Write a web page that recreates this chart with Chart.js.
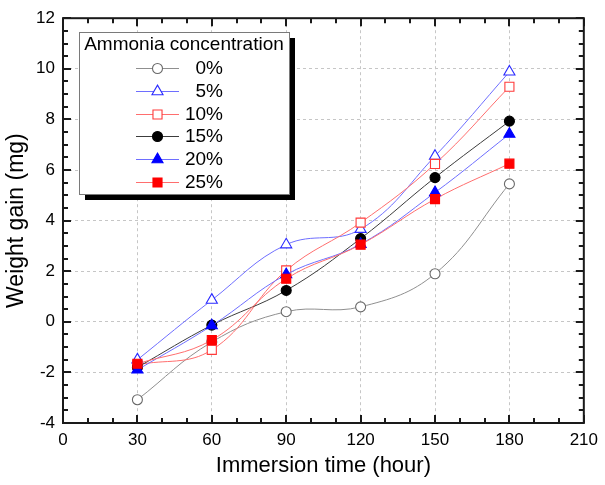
<!DOCTYPE html>
<html>
<head>
<meta charset="utf-8">
<title>Weight gain vs immersion time</title>
<script src="https://cdn.jsdelivr.net/npm/chart.js@4.4.0/dist/chart.umd.min.js"></script>
<style>
  html, body { margin: 0; padding: 0; background: #fff; }
  #wrap { width: 605px; height: 485px; }
</style>
</head>
<body>
<div id="wrap"><canvas id="gainChart" width="605" height="485"></canvas></div>
<script>
// immersion times (hour) and ammonia concentrations
const times = [30, 60, 90, 120, 150, 180];
const concentrations = ["0%", "5%", "10%", "15%", "20%", "25%"];

// weight gain (mg) per concentration
const gain0 = [-3.08, -0.80, 0.40, 0.59, 1.90, 5.45];
const gain5 = [-1.50, 0.86, 3.05, 3.66, 6.55, 9.88];
const gain10 = [-1.70, -1.11, 2.03, 3.92, 6.24, 9.29];
const gain15 = [-1.80, -0.13, 1.24, 3.29, 5.70, 7.93];
const gain20 = [-1.90, -0.15, 1.87, 3.07, 5.11, 7.42];
const gain25 = [-1.66, -0.72, 1.70, 3.05, 4.85, 6.25];

const xTicks = [0, 30, 60, 90, 120, 150, 180, 210];
const yTicks = [-4, -2, 0, 2, 4, 6, 8, 10, 12];

const series = [gain0, gain5, gain10, gain15, gain20, gain25];

const FONT = "Arial, 'Liberation Sans', Helvetica, sans-serif";

// line colour, marker edge, marker fill, marker shape, marker radius
const looks = [
  { line: "#8f8f8f", edge: "#6a6a6a", fill: "#ffffff", shape: "circle", r: 5 },
  { line: "#6e6eff", edge: "#2b2bff", fill: "#ffffff", shape: "triangle", r: 6.4 },
  { line: "#ff6e6e", edge: "#ff3a3a", fill: "#ffffff", shape: "rect", r: 6.4 },
  { line: "#3c3c3c", edge: "#000000", fill: "#000000", shape: "circle", r: 5 },
  { line: "#6e6eff", edge: "#0000ff", fill: "#0000ff", shape: "triangle", r: 6.4 },
  { line: "#ff6e6e", edge: "#ff0000", fill: "#ff0000", shape: "rect", r: 6.4 }
];

const datasets = series.map((vals, i) => ({
  label: concentrations[i],
  data: times.map((t, k) => ({ x: t, y: vals[k] })),
  borderColor: looks[i].line,
  borderWidth: 1,
  tension: 0.4,
  fill: false,
  pointStyle: looks[i].shape,
  pointRadius: looks[i].r,
  pointHoverRadius: looks[i].r,
  pointBackgroundColor: looks[i].fill,
  pointBorderColor: looks[i].edge,
  pointBorderWidth: 1.1,
  order: series.length - i // later series drawn on top
}));

// frame with inward major/minor ticks on all four sides
const frameTicks = {
  id: "frameTicks",
  afterDatasetsDraw(chart) {
    const { ctx, chartArea: a, scales } = chart;
    const xs = scales.x, ys = scales.y;
    ctx.save();
    ctx.strokeStyle = "#1a1a1a";
    ctx.lineWidth = 2;
    ctx.strokeRect(a.left, a.top, a.right - a.left, a.bottom - a.top);

    const tick = (x1, y1, x2, y2) => {
      ctx.beginPath(); ctx.moveTo(x1, y1); ctx.lineTo(x2, y2); ctx.stroke();
    };
    for (let v = xs.min; v <= xs.max; v += 10) {
      const px = Math.round(xs.getPixelForValue(v));
      const len = v % 30 === 0 ? 8 : 5;
      tick(px, a.bottom, px, a.bottom - len);
      tick(px, a.top, px, a.top + len);
    }
    for (let v = ys.min; v <= ys.max; v += 0.5) {
      const py = Math.round(ys.getPixelForValue(v));
      const len = v % 2 === 0 ? 8 : 5;
      tick(a.left, py, a.left + len, py);
      tick(a.right, py, a.right - len, py);
    }
    ctx.restore();
  }
};

// boxed legend with a drop shadow, drawn from the datasets
const legendBox = { left: 79, top: 32, width: 210, height: 162, shadow: 6 };
const boxLegend = {
  id: "boxLegend",
  afterDraw(chart) {
    const ctx = chart.ctx;
    const b = legendBox;
    ctx.save();
    ctx.fillStyle = "#000";
    ctx.fillRect(b.left + b.shadow, b.top + b.shadow, b.width, b.height);
    ctx.fillStyle = "#fff";
    ctx.fillRect(b.left, b.top, b.width, b.height);
    ctx.strokeStyle = "#7a7a7a";
    ctx.lineWidth = 1;
    ctx.strokeRect(b.left + 0.5, b.top + 0.5, b.width, b.height);

    ctx.fillStyle = "#000";
    ctx.font = "19px " + FONT;
    ctx.textAlign = "center";
    ctx.textBaseline = "middle";
    ctx.fillText("Ammonia concentration", b.left + b.width / 2, b.top + 13);

    chart.data.datasets.forEach((ds, i) => {
      const y = Math.round(b.top + 36 + i * 22.8);
      ctx.strokeStyle = ds.borderColor;
      ctx.lineWidth = 1;
      ctx.beginPath();
      ctx.moveTo(136, y + 0.5);
      ctx.lineTo(179, y + 0.5);
      ctx.stroke();

      ctx.fillStyle = ds.pointBackgroundColor;
      ctx.strokeStyle = ds.pointBorderColor;
      ctx.lineWidth = ds.pointBorderWidth;
      Chart.helpers.drawPoint(ctx, {
        pointStyle: ds.pointStyle,
        radius: ds.pointRadius,
        borderWidth: ds.pointBorderWidth,
        rotation: 0
      }, 157.5, y + 0.5);

      ctx.fillStyle = "#000";
      ctx.textAlign = "right";
      ctx.fillText(ds.label, 223, y + 1);
    });
    ctx.restore();
  }
};

const gridColor = (ctx) => {
  const s = ctx.scale;
  if (!ctx.tick || ctx.tick.value === s.min || ctx.tick.value === s.max) return "rgba(0,0,0,0)";
  return "#c6c6c6";
};

new Chart(document.getElementById("gainChart"), {
  type: "line",
  data: { datasets: datasets },
  options: {
    responsive: false,
    animation: false,
    devicePixelRatio: 1,
    layout: { padding: { top: 15, right: 16, left: 0, bottom: 0 } },
    plugins: {
      legend: { display: false },
      tooltip: { enabled: false }
    },
    scales: {
      x: {
        type: "linear",
        min: 0,
        max: 210,
        afterBuildTicks: (scale) => { scale.ticks = xTicks.map(v => ({ value: v })); },
        afterFit: (scale) => { scale.height = 62; },
        ticks: {
          autoSkip: false,
          maxRotation: 0,
          padding: 7,
          color: "#000",
          font: { family: FONT, size: 17 }
        },
        grid: { color: gridColor, lineWidth: 1, drawTicks: false },
        border: { display: false, dash: [3, 3] },
        title: {
          display: true,
          text: "Immersion time (hour)",
          color: "#000",
          font: { family: FONT, size: 22, lineHeight: 1.2 },
          padding: { top: 0, bottom: 6 }
        }
      },
      y: {
        min: -4,
        max: 12,
        afterBuildTicks: (scale) => { scale.ticks = yTicks.map(v => ({ value: v })); },
        afterFit: (scale) => { scale.width = 63; },
        ticks: {
          autoSkip: false,
          padding: 8,
          color: "#000",
          font: { family: FONT, size: 17 }
        },
        grid: { color: gridColor, lineWidth: 1, drawTicks: false },
        border: { display: false, dash: [3, 3] },
        title: {
          display: true,
          text: "Weight gain (mg)",
          color: "#000",
          font: { family: FONT, size: 23, lineHeight: 1.2 },
          padding: { top: 3, bottom: 0 }
        }
      }
    }
  },
  plugins: [frameTicks, boxLegend]
});
</script>
</body>
</html>
